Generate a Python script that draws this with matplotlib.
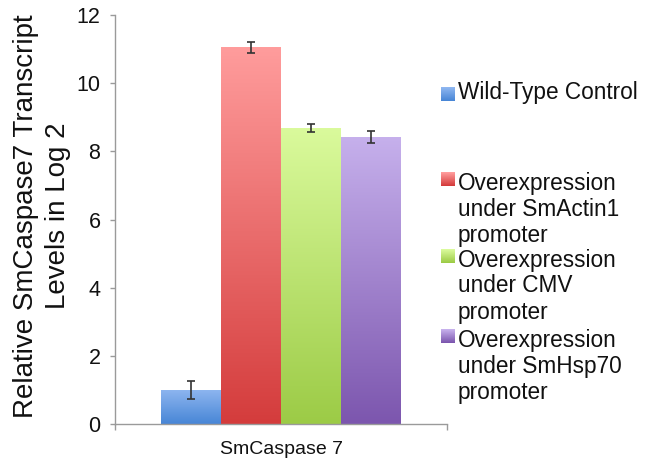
import matplotlib
matplotlib.use("Agg")
import matplotlib.pyplot as plt
import numpy as np
from matplotlib.colors import LinearSegmentedColormap, to_rgb
from matplotlib.patches import Rectangle

plt.rcParams['font.family'] = ['Liberation Sans', 'DejaVu Sans']

category = "SmCaspase 7"
series = ["Wild-Type Control",
          "Overexpression\nunder SmActin1\npromoter",
          "Overexpression\nunder CMV\npromoter",
          "Overexpression\nunder SmHsp70\npromoter"]
values = [1.0, 11.05, 8.68, 8.42]
errors = [0.27, 0.16, 0.11, 0.18]
top_colors = ["#8EB6F0", "#FF9C9C", "#DAFA9C", "#C6B0EC"]
bottom_colors = ["#4886D6", "#D43C3C", "#9CCB46", "#7C56AE"]
yticks = [0, 2, 4, 6, 8, 10, 12]

W, H = 653, 461
fig = plt.figure(figsize=(W / 100, H / 100), dpi=100)
ax = fig.add_axes([115 / W, 1 - 424 / H, (447 - 115) / W, (424 - 15) / H])

bw = 60 / 332
n = len(values)
xs = (np.arange(n) - (n - 1) / 2) * bw

grad = np.linspace(0, 1, 256).reshape(-1, 1)
for x, v, e, tc, bc in zip(xs, values, errors, top_colors, bottom_colors):
    bar = ax.bar(x, v, width=bw, color='none', edgecolor='none', zorder=2)[0]
    cmap = LinearSegmentedColormap.from_list("g", [bc, tc])
    im = ax.imshow(grad, extent=(x - bw / 2, x + bw / 2, 0, v), origin='lower',
                   cmap=cmap, aspect='auto', zorder=2)
    im.set_clip_path(bar)
    ax.errorbar(x, v, yerr=e, fmt='none', ecolor='#333333', elinewidth=1.2,
                capsize=3, capthick=1.2, zorder=3)

ax.set_xlim(-0.5, 0.5)
ax.set_ylim(0, 12)
ax.set_yticks(yticks)
ax.set_yticklabels([str(t) for t in yticks])
ax.set_xticks([0])
ax.set_xticklabels([category])
ax.set_xticks([-0.5, 0.5], minor=True)

for s in ['top', 'right']:
    ax.spines[s].set_visible(False)
for s in ['left', 'bottom']:
    ax.spines[s].set_color('#9a9a9a')
    ax.spines[s].set_linewidth(1.0)

ax.tick_params(axis='y', direction='out', length=3.5, width=1, color='#9a9a9a',
               labelsize=15.5, pad=7, labelcolor='#111111')
ax.tick_params(axis='x', which='major', length=0, labelsize=14, pad=12,
               labelcolor='#111111')
ax.tick_params(axis='x', which='minor', direction='out', length=4.5, width=1,
               color='#9a9a9a')

fig.text(42 / W, 1 - 216 / H, "Relative SmCaspase7 Transcript\nLevels in Log 2",
         rotation=90, ha='center', va='center', fontsize=20, linespacing=1.3,
         color='#111111')

# legend (manual, Excel-like layout)
first_line_y = [93, 183, 260, 340]
line_pitch = 26
sq = 14
for lab, y0, tc, bc in zip(series, first_line_y, top_colors, bottom_colors):
    lines = lab.split("\n")
    for k, ln in enumerate(lines):
        fig.text(458 / W, 1 - (y0 + k * line_pitch) / H, ln, ha='left',
                 va='center', fontsize=16.3, color='#111111')
    cy = y0 + 1 if len(lines) == 1 else y0 - 4
    top_px = cy - sq / 2
    t, b = np.array(to_rgb(tc)), np.array(to_rgb(bc))
    for r in range(sq):
        f = r / (sq - 1)
        col = t * (1 - f) + b * f
        fig.patches.append(Rectangle((441 / W, 1 - (top_px + r + 1) / H), sq / W, 1 / H,
                                     transform=fig.transFigure, facecolor=col,
                                     edgecolor='none', antialiased=False))

fig.savefig("out.png", dpi=100)
